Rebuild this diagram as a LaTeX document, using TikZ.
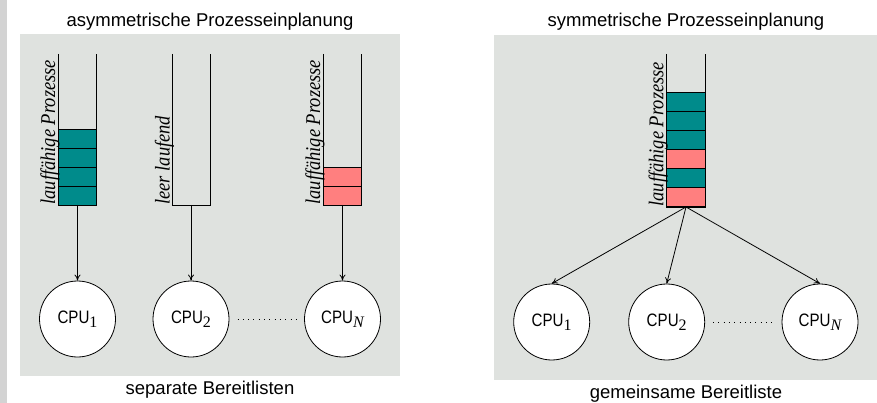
\documentclass[tikz,border=0pt]{standalone}
\usepackage{fontspec}
\setmainfont{Liberation Serif}
\setsansfont{Liberation Sans}
\usetikzlibrary{arrows.meta}
\definecolor{panelgray}{HTML}{DFE2DF}
\definecolor{stripgray}{HTML}{D3D3D3}
\definecolor{procteal}{HTML}{008B8B}
\definecolor{procpink}{HTML}{FF7F7F}
\newcommand{\cpusub}[1]{\raisebox{-3.5pt}{\rmfamily\fontsize{16}{16}\selectfont #1}}
\newcommand{\cpulabel}[1]{\scalebox{0.84}[1]{CPU}\cpusub{#1}}
\newcommand{\qtext}[1]{\scalebox{0.88}[1]{#1}}
\begin{document}
\begin{tikzpicture}[x=1pt,y=-1pt, line width=0.8pt,
 cpu/.style={circle,draw,fill=white,minimum size=76pt,inner sep=0pt,font=\sffamily\fontsize{18}{18}\selectfont},
 qlabel/.style={rotate=90,anchor=base west,inner sep=0pt,font=\itshape\fontsize{21}{21}\selectfont},
 title/.style={font=\sffamily\fontsize{18.5}{18.5}\selectfont,inner sep=0pt,anchor=base},
 arr/.style={-{To[length=6pt,width=6pt]}},
 tealcell/.style={fill=procteal,draw},
 pinkcell/.style={fill=procpink,draw},
 dotline/.style={dash pattern=on 0.9pt off 4.4pt, line width=0.9pt}]
\useasboundingbox (0,0) rectangle (877,403);
\fill[stripgray] (0,0) rectangle (7,403);
\fill[panelgray] (20,34) rectangle (400,376);
\fill[panelgray] (494,35) rectangle (877,380);
% titles
\node[title] (tA) at (210,27) {asymmetrische Prozesseinplanung};
\node[title] (bA) at (210,394.5) {separate Bereitlisten};
\node[title] (tB) at (686,27) {symmetrische Prozesseinplanung};
\node[title] (bB) at (686,398) {gemeinsame Bereitliste};
% left panel queues
\foreach \i in {0,...,3} \draw[tealcell] (58.5,129+19*\i) rectangle (96.5,148+19*\i);
\draw (58.5,54) -- (58.5,205) -- (96.5,205) -- (96.5,54);
\draw (172,54) -- (172,205) -- (210,205) -- (210,54);
\foreach \i in {0,1} \draw[pinkcell] (323.5,167+19*\i) rectangle (361.5,186+19*\i);
\draw (323.5,54) -- (323.5,205) -- (361.5,205) -- (361.5,54);
\coordinate (qA1) at (77.5,205);
\coordinate (qA2) at (191,205);
\coordinate (qA3) at (342.5,205);
\node[qlabel] (lA1) at (55.2,205) {\qtext{lauffähige Prozesse}};
\node[qlabel] (lA2) at (169.5,205) {\qtext{leer laufend}};
\node[qlabel] (lA3) at (320.2,205) {\qtext{lauffähige Prozesse}};
% left panel cpus
\node[cpu] (cA1) at (77.5,319) {\cpulabel{1}};
\node[cpu] (cA2) at (191,319) {\cpulabel{2}};
\node[cpu] (cA3) at (342.5,319) {\cpulabel{\itshape N}};
\draw[arr] (qA1) -- (cA1.north);
\draw[arr] (qA2) -- (cA2.north);
\draw[arr] (qA3) -- (cA3.north);
\coordinate (dA1) at (237.5,319);
\coordinate (dA2) at (296,319);
\draw[dotline] (dA1) -- (dA2);
% right panel queue
\foreach \i/\c in {0/tealcell,1/tealcell,2/tealcell,3/pinkcell,4/tealcell,5/pinkcell}
  \draw[\c] (666.7,92.3+19.1*\i) rectangle (705,111.4+19.1*\i);
\draw (666.7,54) -- (666.7,207) -- (705,207) -- (705,54);
\coordinate (qB) at (686,207);
\node[qlabel] (lB) at (663.4,207) {\qtext{lauffähige Prozesse}};
\node[cpu] (cB1) at (551.7,322) {\cpulabel{1}};
\node[cpu] (cB2) at (666.7,322) {\cpulabel{2}};
\node[cpu] (cB3) at (820,322) {\cpulabel{\itshape N}};
\draw[arr] (qB) -- (cB1.north);
\draw[arr] (qB) -- (cB2.north);
\draw[arr] (qB) -- (cB3.north);
\coordinate (dB1) at (713,322);
\coordinate (dB2) at (773,322);
\draw[dotline] (dB1) -- (dB2);
\end{tikzpicture}
\end{document}
